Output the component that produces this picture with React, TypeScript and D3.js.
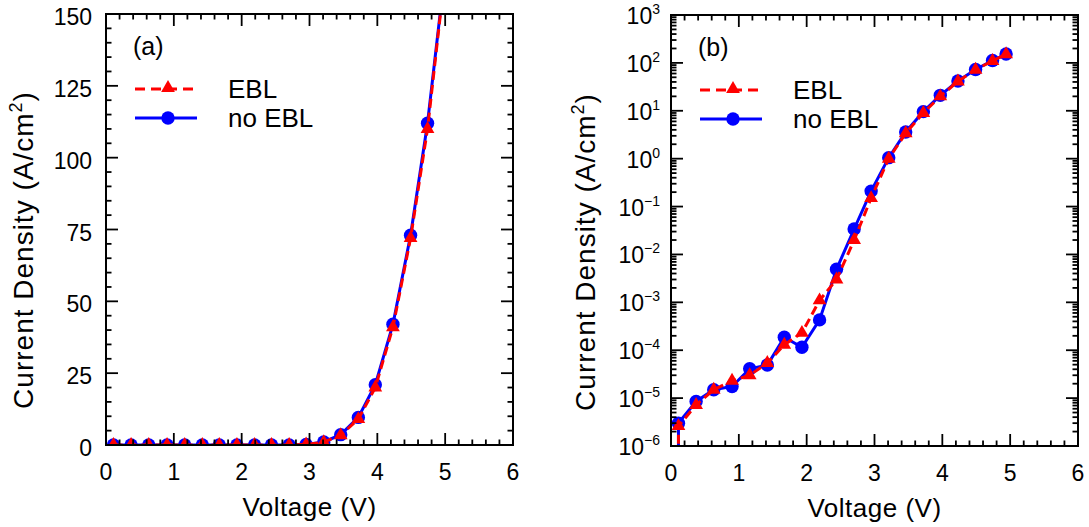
import React from "react";
import * as d3 from "d3";

// ---- data ----
const voltage = [0.11, 0.37, 0.63, 0.9, 1.16, 1.42, 1.67, 1.93, 2.19, 2.44, 2.7, 2.95, 3.21, 3.46, 3.72, 3.97, 4.23, 4.49, 4.74, 4.94];
const currentEBL = [2.6e-6, 7.2e-6, 1.5e-5, 2.3e-5, 3.0e-5, 5.4e-5, 1.3e-4, 2.3e-4, 1.1e-3, 3.0e-3, 0.02, 0.15, 1.0, 3.4, 9.0, 20, 41, 72, 110, 152];
const currentNoEBL = [3.0e-6, 8.5e-6, 1.5e-5, 1.75e-5, 4.1e-5, 4.9e-5, 1.87e-4, 1.15e-4, 4.3e-4, 4.9e-3, 0.034, 0.21, 1.05, 3.6, 9.6, 21, 42, 73, 112, 153];
// lowest reading at the first bias point (below the log axis, drawn as the drop-off line)
const leadVoltage = 0.11;
const leadCurrent = 1e-9;

const xTickValues = [0, 1, 2, 3, 4, 5, 6];
const linYTicks = [0, 25, 50, 75, 100, 125, 150];
const logExponents = [-6, -5, -4, -3, -2, -1, 0, 1, 2, 3];
const seriesNames = ["EBL", "no EBL"];

const FONT = "'Liberation Sans', Arial, sans-serif";
const RED = "#ff0000";
const BLUE = "#0000ff";

type PanelProps = {
  left: number; right: number; top: number; bottom: number;
  log: boolean; tag: string; clipId: string; labelY: number;
};

function supMinus(n: number) {
  return n < 0 ? "\u2212" + Math.abs(n) : String(n);
}

function Panel({ left, right, top, bottom, log, tag, clipId, labelY }: PanelProps) {
  const x = d3.scaleLinear().domain([0, 6]).range([left, right]);
  const y: any = log
    ? d3.scaleLog().domain([1e-6, 1e3]).range([bottom, top])
    : d3.scaleLinear().domain([0, 150]).range([bottom, top]);

  const xMinor = d3.range(0, 6.001, 0.2).filter((v) => Math.abs(v - Math.round(v)) > 1e-6);
  const yMajor = log ? logExponents.map((e) => Math.pow(10, e)) : linYTicks;
  const yMinor: number[] = log
    ? logExponents.slice(0, -1).flatMap((e) => d3.range(2, 10).map((k) => k * Math.pow(10, e)))
    : d3.range(0, 150.001, 5).filter((v) => v % 25 !== 0);

  const MAJ = 12, MIN = 5.5;
  const tickStyle = { stroke: "#000", strokeWidth: 1.8 };

  const vAll = [leadVoltage, ...voltage];
  const line = d3
    .line<number>()
    .x((_, i) => x(vAll[i]))
    .y((d) => {
      const v = log ? Math.max(d, 1e-8) : d;
      return y(v);
    });

  const blueData = [leadCurrent, ...currentNoEBL];
  const redData = [leadCurrent, ...currentEBL];
  const tri = d3.symbol().type(d3.symbolTriangle).size(82)();

  const legX0 = left + 29, legX1 = left + 91, legM = left + 62, legT = left + 122;
  const legY = [top + 75, top + 104];

  return (
    <g>
      <defs>
        <clipPath id={clipId}>
          <rect x={left} y={top} width={right - left} height={bottom - top} />
        </clipPath>
      </defs>
      {/* data */}
      <g clipPath={`url(#${clipId})`}>
        <path d={line(blueData) || ""} fill="none" stroke={BLUE} strokeWidth={3} />
        {voltage.map((v, i) => (
          <circle key={"b" + i} cx={x(v)} cy={y(currentNoEBL[i])} r={6.7} fill={BLUE} />
        ))}
        <path d={line(redData) || ""} fill="none" stroke={RED} strokeWidth={3} strokeDasharray="9,5" />
        {voltage.map((v, i) => (
          <path key={"r" + i} d={tri || ""} transform={`translate(${x(v)},${y(currentEBL[i])})`} fill={RED} />
        ))}
      </g>
      {/* ticks */}
      {xTickValues.map((v) => (
        <g key={"xt" + v}>
          <line x1={x(v)} x2={x(v)} y1={bottom} y2={bottom - MAJ} {...tickStyle} />
          <line x1={x(v)} x2={x(v)} y1={top} y2={top + MAJ} {...tickStyle} />
          <text x={x(v)} y={bottom + 35} textAnchor="middle" fontSize={23} fontFamily={FONT}>{v}</text>
        </g>
      ))}
      {xMinor.map((v, i) => (
        <g key={"xm" + i}>
          <line x1={x(v)} x2={x(v)} y1={bottom} y2={bottom - MIN} {...tickStyle} />
          <line x1={x(v)} x2={x(v)} y1={top} y2={top + MIN} {...tickStyle} />
        </g>
      ))}
      {yMajor.map((v, i) => (
        <g key={"yt" + i}>
          <line x1={left} x2={left + MAJ} y1={y(v)} y2={y(v)} {...tickStyle} />
          <line x1={right} x2={right - MAJ} y1={y(v)} y2={y(v)} {...tickStyle} />
          {log ? (
            <text x={left - 11} y={y(v) + 9} textAnchor="end" fontSize={23} fontFamily={FONT}>
              10
              <tspan fontSize={14} dy={-10}>{supMinus(logExponents[i])}</tspan>
            </text>
          ) : (
            <text x={left - 14} y={y(v) + 11} textAnchor="end" fontSize={23} fontFamily={FONT}>{v}</text>
          )}
        </g>
      ))}
      {yMinor.map((v, i) => (
        <g key={"ym" + i}>
          <line x1={left} x2={left + MIN} y1={y(v)} y2={y(v)} {...tickStyle} />
          <line x1={right} x2={right - MIN} y1={y(v)} y2={y(v)} {...tickStyle} />
        </g>
      ))}
      {/* frame */}
      <rect x={left} y={top} width={right - left} height={bottom - top} fill="none" stroke="#000" strokeWidth={2} />
      {/* labels */}
      <text x={(left + right) / 2} y={bottom + 71} textAnchor="middle" fontSize={26} letterSpacing={0.5} fontFamily={FONT}>Voltage (V)</text>
      <text transform={`translate(${left - (log ? 76 : 73)},${labelY}) rotate(-90)`} textAnchor="middle" fontSize={28} letterSpacing={1} fontFamily={FONT}>
        Current Density (A/cm<tspan fontSize={18} dy={-11}>2</tspan><tspan dy={11}>)</tspan>
      </text>
      <text x={left + 27} y={top + 41} fontSize={25} fontFamily={FONT}>{tag}</text>
      {/* legend */}
      <line x1={legX0} x2={legX1} y1={legY[0]} y2={legY[0]} stroke={RED} strokeWidth={3} strokeDasharray="10,6" />
      <path d={tri || ""} transform={`translate(${legM},${legY[0] - 1})`} fill={RED} />
      <text x={legT} y={legY[0] + 9} fontSize={26} fontFamily={FONT}>{seriesNames[0]}</text>
      <line x1={legX0} x2={legX1} y1={legY[1]} y2={legY[1]} stroke={BLUE} strokeWidth={3} />
      <circle cx={legM} cy={legY[1]} r={6.7} fill={BLUE} />
      <text x={legT} y={legY[1] + 9} fontSize={26} fontFamily={FONT}>{seriesNames[1]}</text>
    </g>
  );
}

export default function App() {
  return (
    <svg width={1089} height={527} style={{ position: "absolute", left: 0, top: 0, background: "#fff" }}>
      <rect width={1089} height={527} fill="#fff" />
      <Panel left={106} right={513} top={14} bottom={445} log={false} tag="(a)" clipId="clipA" labelY={250} />
      <Panel left={671} right={1078} top={15} bottom={446} log={true} tag="(b)" clipId="clipB" labelY={252} />
    </svg>
  );
}
